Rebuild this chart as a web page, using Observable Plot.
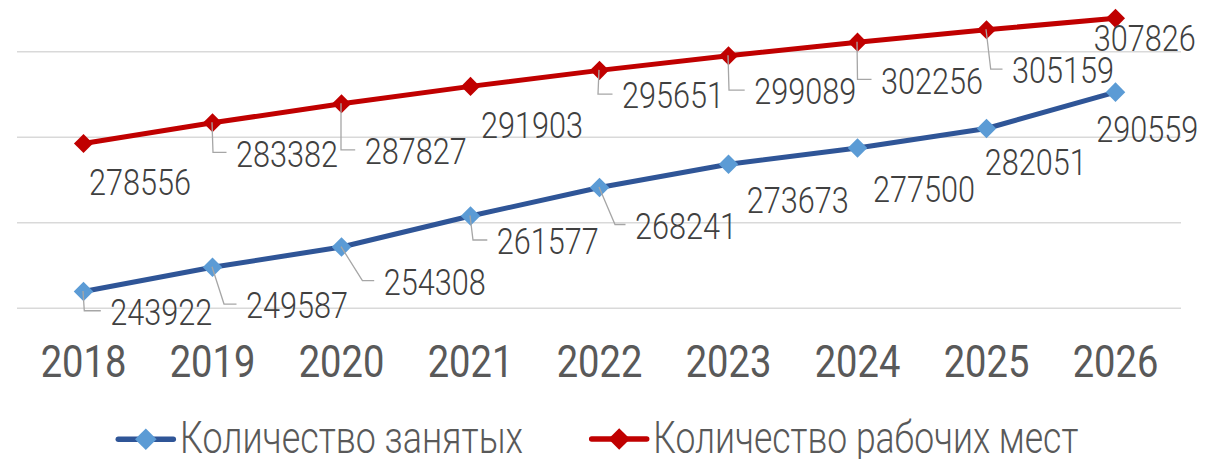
<!DOCTYPE html>
<html><head><meta charset="utf-8">
<script src="https://cdn.jsdelivr.net/npm/d3@7"></script>
<script src="https://cdn.jsdelivr.net/npm/@observablehq/plot@0.6"></script>
<style>
body{margin:0;background:#fff;font-family:Roboto,sans-serif}
#chart{width:1206px;height:459px;overflow:hidden}
#chart svg{display:block}
</style></head><body><div id="chart"></div>
<script>
// ---- data ----
const years = ["2018","2019","2020","2021","2022","2023","2024","2025","2026"];
const employed = [243922, 249587, 254308, 261577, 268241, 273673, 277500, 282051, 290559];
const jobs = [278556, 283382, 287827, 291903, 295651, 299089, 302256, 305159, 307826];
const seriesNames = ["Количество занятых", "Количество рабочих мест"];
const gridTicks = [240000, 260000, 280000, 300000];

// ---- label layout (pixel offset of label centre from its point; leader bend shift or null) ----
const jobsDx = [57, 75, 74.7, 62, 74, 77.2, 75, 77, 29.7];
const jobsDy = [38.8, 31.1, 47.6, 39.2, 25.2, 35.9, 38.7, 40.8, 19.8];
const jobsLeader = [null, 1, 0, null, -1, 1, 0.5, 4.7, null];
const empDx = [78.3, 85, 93.7, 77.8, 87, 69.7, 67, 49.7, 32.2];
const empDy = [20.8, 38.3, 35, 25.5, 38.5, 36.3, 40.9, 34.1, 36.7];
const empLeader = [1.3, 12, 21.4, 3, 16, null, null, null, null];

const BLUE_LINE = "#2F5597", BLUE_MARK = "#5B9BD5", RED = "#C00000";
const LABEL_FS = 37.5, LABEL_W = 102;

const empData = years.map((y, i) => ({year: y, value: employed[i]}));
const jobsData = years.map((y, i) => ({year: y, value: jobs[i]}));

function labelsMark(values, dxs, dys, leaders) {
  return (index, scales) => {
    const g = d3.create("svg:g");
    years.forEach((yr, i) => {
      const px = scales.x(yr), py = scales.y(values[i]);
      const cx = px + dxs[i], cy = py + dys[i];
      if (leaders[i] != null) {
        g.append("path")
          .attr("d", `M${px},${py}L${px + leaders[i]},${cy - 1}L${cx - LABEL_W / 2 - 9.5},${cy - 1}`)
          .attr("fill", "none").attr("stroke", "#a6a6a6").attr("stroke-width", 1.3);
      }
      g.append("text")
        .attr("x", cx).attr("y", cy + 0.711 * LABEL_FS / 2)
        .attr("text-anchor", "middle")
        .attr("font-family", "Roboto").attr("font-weight", 300)
        .attr("font-size", LABEL_FS).attr("fill", "#404040")
        .attr("textLength", LABEL_W).attr("lengthAdjust", "spacingAndGlyphs")
        .text(String(values[i]));
    });
    return g.node();
  };
}

const plot = Plot.plot({
  width: 1206, height: 405,
  marginLeft: 17, marginRight: 25, marginTop: 0, marginBottom: 97.3,
  style: {fontFamily: "Roboto", background: "#fff"},
  x: {type: "point", domain: years, padding: 0.5},
  y: {domain: [240000, 312000], axis: null},
  marks: [
    Plot.gridY(gridTicks, {stroke: "#d9d9d9", strokeOpacity: 1, strokeWidth: 1.5}),
    Plot.axisX({tickSize: 0, tickPadding: 37.3, fontSize: 44.6, label: null}),
    Plot.line(empData, {x: "year", y: "value", stroke: BLUE_LINE, strokeWidth: 5}),
    Plot.line(jobsData, {x: "year", y: "value", stroke: RED, strokeWidth: 5}),
    Plot.dot(empData, {x: "year", y: "value", symbol: "diamond2", r: 8.8, fill: BLUE_MARK, stroke: "none"}),
    Plot.dot(jobsData, {x: "year", y: "value", symbol: "diamond2", r: 8.6, fill: RED, stroke: "none"}),
    labelsMark(jobs, jobsDx, jobsDy, jobsLeader),
    labelsMark(employed, empDx, empDy, empLeader)
  ]
});

// style x-axis labels (condensed look)
plot.querySelectorAll('g[aria-label="x-axis tick label"] text').forEach(t => {
  t.setAttribute("fill", "#595959");
  t.setAttribute("font-weight", "400");
  t.setAttribute("textLength", "85.7");
  t.setAttribute("lengthAdjust", "spacingAndGlyphs");
});
const axG = plot.querySelector('g[aria-label="x-axis tick label"]');
if (axG) axG.setAttribute("fill", "#595959");

const chart = document.getElementById("chart");
chart.appendChild(plot);

// ---- legend below the chart ----
const legend = d3.create("svg").attr("width", 1206).attr("height", 54);
const items = [
  {name: seriesNames[0], line: BLUE_LINE, mark: BLUE_MARK, x0: 118.3, x1: 173.3, tx: 180, tw: 343, cy: 34.3},
  {name: seriesNames[1], line: RED, mark: RED, x0: 591.7, x1: 646.7, tx: 653.3, tw: 425, cy: 34}
];
items.forEach(it => {
  legend.append("line").attr("x1", it.x0).attr("x2", it.x1).attr("y1", it.cy).attr("y2", it.cy)
    .attr("stroke", it.line).attr("stroke-width", 5.5).attr("stroke-linecap", "round");
  const mx = (it.x0 + it.x1) / 2, h = 10.8;
  legend.append("path").attr("d", `M${mx},${it.cy - h}L${mx + h},${it.cy}L${mx},${it.cy + h}L${mx - h},${it.cy}Z`)
    .attr("fill", it.mark);
  legend.append("text").attr("x", it.tx).attr("y", 48)
    .attr("font-family", "Roboto").attr("font-weight", 300).attr("font-size", 44)
    .attr("fill", "#595959").attr("textLength", it.tw).attr("lengthAdjust", "spacingAndGlyphs")
    .text(it.name);
});
chart.appendChild(legend.node());
</script></body></html>
